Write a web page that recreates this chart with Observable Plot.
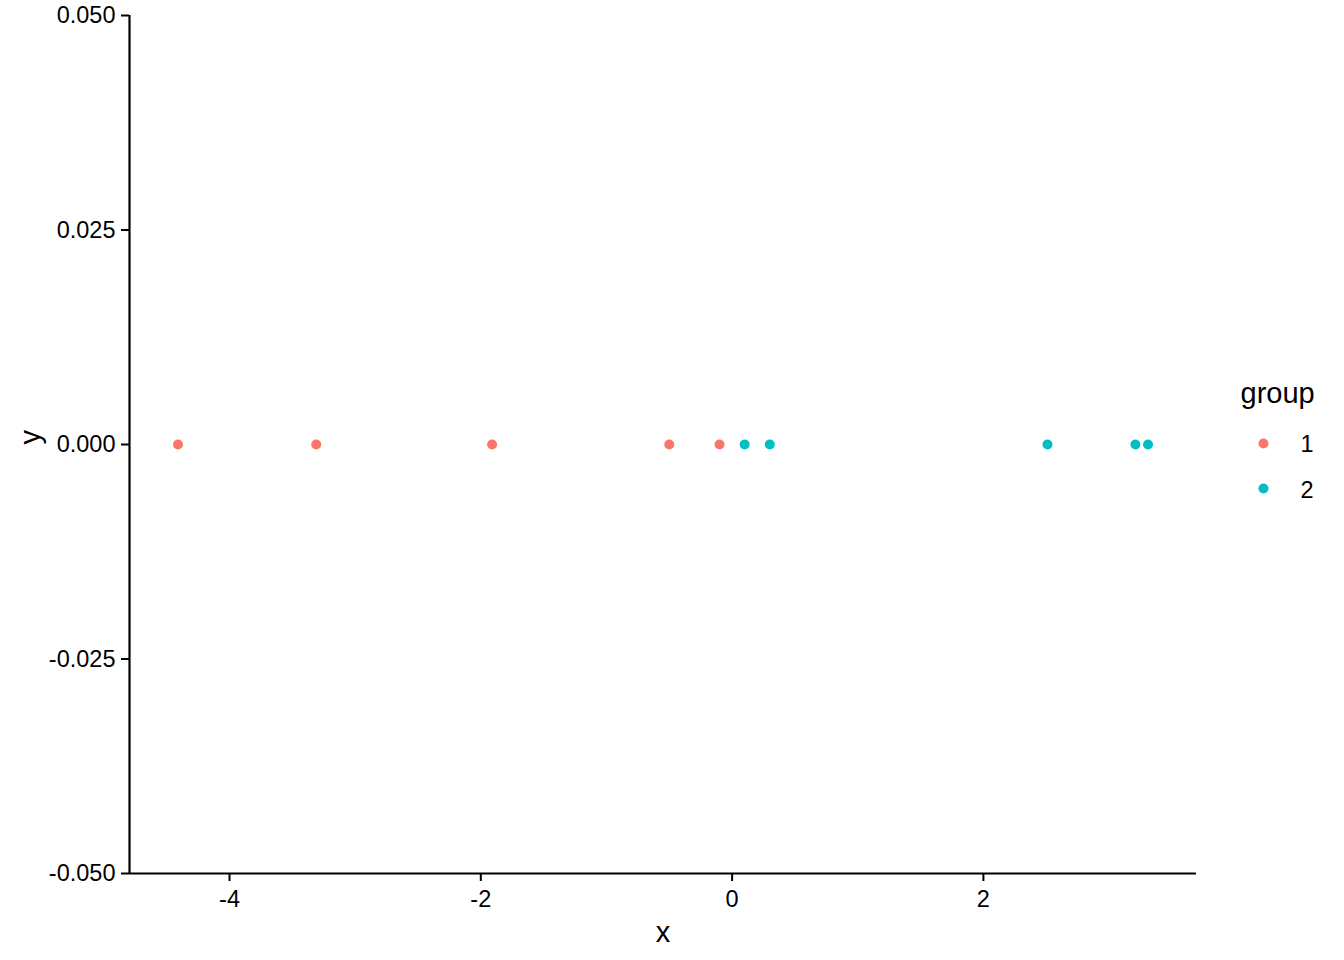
<!DOCTYPE html>
<html>
<head>
<meta charset="utf-8">
<script src="https://cdn.jsdelivr.net/npm/d3@7"></script>
<script src="https://cdn.jsdelivr.net/npm/@observablehq/plot@0.6"></script>
<style>
  html, body { margin: 0; padding: 0; background: #fff; }
  #chart svg { display: block; font-family: "Liberation Sans", Arial, sans-serif; }
</style>
</head>
<body>
<div id="chart"></div>
<script>
// Data
const groupNames = ["1", "2"];
const group1X = [-4.41, -3.31, -1.91, -0.50, -0.10];
const group2X = [0.10, 0.30, 2.51, 3.21, 3.31];
const group1Y = [0, 0, 0, 0, 0];
const group2Y = [0, 0, 0, 0, 0];
const groupColors = ["#F8766D", "#00BFC4"];
const xTicks = [-4, -2, 0, 2];
const yTicks = [-0.05, -0.025, 0, 0.025, 0.05];

const data = [
  ...group1X.map((x, i) => ({x, y: group1Y[i], group: groupNames[0]})),
  ...group2X.map((x, i) => ({x, y: group2Y[i], group: groupNames[1]}))
];

const allX = data.map(d => d.x);
const xmin = d3.min(allX), xmax = d3.max(allX);
const pad = (xmax - xmin) * 0.05;
const xDomain = [xmin - pad, xmax + pad];
const yDomain = [-0.05, 0.05];

const font = "Liberation Sans, Arial, sans-serif";

const chart = Plot.plot({
  width: 1344,
  height: 960,
  marginLeft: 129,
  marginRight: 148,
  marginTop: 15,
  marginBottom: 87,
  style: {fontFamily: font, background: "#fff", overflow: "visible"},
  x: {domain: xDomain, label: null},
  y: {domain: yDomain, label: null},
  color: {domain: groupNames, range: groupColors},
  marks: [
    Plot.axisX({ticks: xTicks, tickFormat: d => String(d), tickSize: 8, tickPadding: 9,
      fontSize: 23.5, stroke: "#000", strokeWidth: 2, fill: "#000", label: null}),
    Plot.axisY({ticks: yTicks, tickFormat: d => d.toFixed(3), tickSize: 8, tickPadding: 6,
      fontSize: 23.5, stroke: "#000", strokeWidth: 2, fill: "#000", label: null}),
    Plot.ruleX([xDomain[0]], {stroke: "#000", strokeWidth: 2.2}),
    Plot.ruleY([yDomain[0]], {stroke: "#000", strokeWidth: 2.2}),
    Plot.dot(data, {x: "x", y: "y", fill: "group", r: 5, stroke: null}),
    // axis titles
    Plot.text(["x"], {frameAnchor: "bottom", dy: 59, fontSize: 29, fill: "#000", lineAnchor: "middle"}),
    Plot.text(["y"], {frameAnchor: "left", dx: -99, rotate: -90, fontSize: 29, fill: "#000", lineAnchor: "middle"}),
    // legend
    Plot.text(["group"], {frameAnchor: "right", dx: 44, dy: -51, textAnchor: "start", fontSize: 29, fill: "#000", lineAnchor: "middle"}),
    Plot.dot([groupNames[0]], {frameAnchor: "right", dx: 67, dy: -1, r: 5, fill: groupColors[0]}),
    Plot.dot([groupNames[1]], {frameAnchor: "right", dx: 67, dy: 44, r: 5, fill: groupColors[1]}),
    Plot.text([groupNames[0]], {frameAnchor: "right", dx: 104, dy: 0, textAnchor: "start", fontSize: 23.5, fill: "#000", lineAnchor: "middle"}),
    Plot.text([groupNames[1]], {frameAnchor: "right", dx: 104, dy: 46, textAnchor: "start", fontSize: 23.5, fill: "#000", lineAnchor: "middle"})
  ]
});

document.getElementById("chart").appendChild(chart);
</script>
</body>
</html>
